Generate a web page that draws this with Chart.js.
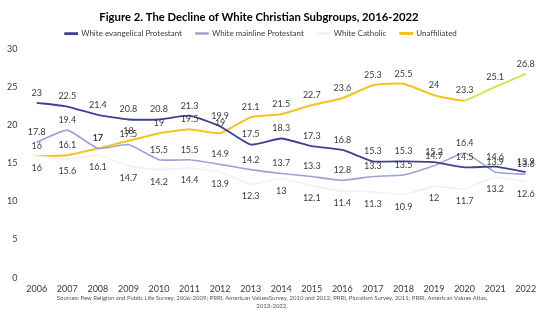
<!DOCTYPE html>
<html>
<head>
<meta charset="utf-8">
<script src="https://cdn.jsdelivr.net/npm/chart.js@4/dist/chart.umd.min.js"></script>
<style>
html,body{margin:0;padding:0;background:#fff;}
#wrap{width:548px;height:328px;}
</style>
</head>
<body>
<div id="wrap"><canvas id="c" width="548" height="328"></canvas></div>
<script>
const years = ['2006','2007','2008','2009','2010','2011','2012','2013','2014','2015','2016','2017','2018','2019','2020','2021','2022'];
const evangelical = [23, 22.5, 21.4, 20.8, 20.8, 21.3, 19.9, 17.5, 18.3, 17.3, 16.8, 15.3, 15.3, 15.2, 14.5, 14.6, 13.9];
const mainline = [17.8, 19.4, 17, 17.5, 15.5, 15.5, 14.9, 14.2, 13.7, 13.3, 12.8, 13.3, 13.5, 14.7, 16.4, 13.9, 13.6];
const catholic = [16, 15.6, 16.1, 14.7, 14.2, 14.4, 13.9, 12.3, 13, 12.1, 11.4, 11.3, 10.9, 12, 11.7, 13.2, 12.6];
const unaffiliated = [16, 16.1, 17, 18, 19, 19.5, 19, 21.1, 21.5, 22.7, 23.6, 25.3, 25.5, 24, 23.3, 25.1, 26.8];
const yTicks = [0, 5, 10, 15, 20, 25, 30];

const FONT = 'Lato, "Open Sans", sans-serif';
const labelOffsets = [-10, -10, 12, -10];

const valueLabels = {
  id: 'valueLabels',
  afterDatasetsDraw(chart) {
    const ctx = chart.ctx;
    ctx.save();
    ctx.font = '9px ' + FONT;
    ctx.fillStyle = '#3a3a3a';
    ctx.textAlign = 'center';
    ctx.textBaseline = 'middle';
    chart.data.datasets.forEach((ds, i) => {
      const meta = chart.getDatasetMeta(i);
      meta.data.forEach((pt, j) => {
        ctx.fillText(String(ds.data[j]), pt.x, pt.y + labelOffsets[i]);
      });
    });
    ctx.restore();
  }
};

// header tweaks: extra legend height, and shift title & legend slightly left
const headerTweak = {
  id: 'headerTweak',
  beforeLayout(chart) {
    const lg = chart.legend;
    if (lg && !lg._patched) {
      const f = lg.fit;
      lg.fit = function () { f.call(this); this.height += 2; };
      lg._patched = true;
    }
  },
  afterLayout(chart) {
    if (chart.titleBlock) { chart.titleBlock.left -= 13; chart.titleBlock.right -= 13; }
    if (chart.legend) { chart.legend.left -= 11; chart.legend.right -= 11; }
  }
};

new Chart(document.getElementById('c'), {
  type: 'line',
  data: {
    labels: years,
    datasets: [
      {label: 'White evangelical Protestant', data: evangelical, borderColor: '#3e4193', backgroundColor: '#3e4193', borderWidth: 1.8},
      {label: 'White mainline Protestant', data: mainline, borderColor: '#9fa1d6', backgroundColor: '#9fa1d6', borderWidth: 1.6},
      {label: 'White Catholic', data: catholic, borderColor: '#f0f1f7', backgroundColor: '#eef0f6', borderWidth: 1.6},
      {label: 'Unaffiliated', data: unaffiliated, borderColor: '#f2c41e', backgroundColor: '#dde44e', borderWidth: 2,
       segment: {borderColor: c => c.p0DataIndex >= 14 ? '#d8e24a' : '#f2c41e'}}
    ]
  },
  options: {
    responsive: false,
    animation: false,
    layout: {padding: {left: 3, right: 7, top: 0, bottom: 2}},
    elements: {point: {radius: 0}, line: {tension: 0.15}},
    scales: {
      x: {
        offset: true,
        grid: {display: false, drawTicks: false},
        border: {display: false},
        ticks: {color: '#3a3a3a', font: {family: FONT, size: 9}, padding: 6, maxRotation: 0, autoSkip: false}
      },
      y: {
        min: 0, max: 30,
        afterBuildTicks: axis => { axis.ticks = yTicks.map(v => ({value: v})); },
        grid: {display: false, drawTicks: false},
        border: {display: false},
        ticks: {color: '#3a3a3a', font: {family: FONT, size: 9}, padding: 4}
      }
    },
    plugins: {
      title: {
        display: true,
        text: 'Figure 2. The Decline of White Christian Subgroups, 2016-2022',
        color: '#000',
        font: {family: FONT, size: 11.3, weight: 'bold'},
        padding: {top: 11, bottom: -9}
      },
      legend: {
        display: true,
        labels: {
          color: '#3a3a3a',
          font: {family: FONT, size: 8},
          boxWidth: 12,
          boxHeight: 1,
          padding: 14
        }
      },
      subtitle: {
        display: true,
        position: 'bottom',
        text: ['Sources: Pew Religion and Public Life Survey, 2006-2009; PRRI, American ValuesSurvey, 2010 and 2012; PRRI, Pluralism Survey, 2011; PRRI, American Values Atlas,', '2013-2022.'],
        color: '#555',
        font: {family: FONT, size: 6, lineHeight: 1.3},
        padding: {top: -6, bottom: 16}
      },
      tooltip: {enabled: false}
    }
  },
  plugins: [valueLabels, headerTweak]
});
</script>
</body>
</html>
